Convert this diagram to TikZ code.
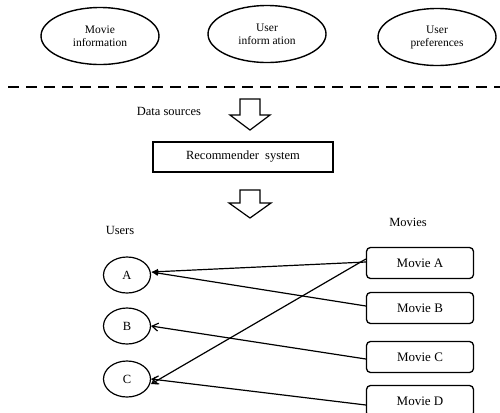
\documentclass[tikz,border=0pt]{standalone}
\usepackage{fontspec}
\setmainfont{Liberation Serif}
\usetikzlibrary{shapes.geometric,arrows.meta}
\tikzset{
  src/.style={draw, ellipse, line width=1.4bp, minimum width=118bp, minimum height=57bp, inner sep=0pt, align=center, font=\fontsize{11.5bp}{13bp}\selectfont},
  usr/.style={draw, ellipse, line width=1.2bp, minimum width=47bp, minimum height=36bp, inner sep=0pt, font=\fontsize{12.5bp}{14bp}\selectfont},
  mov/.style={draw, rounded corners=4bp, line width=1.3bp, minimum width=107bp, minimum height=31bp, inner sep=0pt, font=\fontsize{13bp}{14bp}\selectfont},
  lbl/.style={font=\fontsize{12.5bp}{14bp}\selectfont, inner sep=0pt},
  blockarrow/.style={draw, line width=1.2bp, fill=white},
  link/.style={line width=1.2bp, -{Straight Barb[length=6bp,width=8bp]}},
  linkfill/.style={line width=1.2bp, -{Latex[length=7bp,width=6bp]}}
}
\begin{document}
\begin{tikzpicture}[x=1bp,y=-1bp]
\useasboundingbox (0,0) rectangle (500,412);
% data sources
\node[src] (mi) at (100,36) {Movie\\information};
\node[src] (ui) at (267,34) {User\\inform ation};
\node[src] (up) at (437,37) {User\\preferences};
\coordinate (dl) at (8,87);
\coordinate (dr) at (500,87);
\draw[line width=1.5bp, dash pattern=on 11bp off 7bp] (dl) -- (dr);
\node[lbl] (ds) at (169,111) {Data sources};
\draw[blockarrow] (240,99) -- (260,99) -- (260,115) -- (270,115) -- (250,130) -- (230,115) -- (240,115) -- cycle;
\node[draw, line width=1.3bp, minimum width=180bp, minimum height=30bp, inner sep=0pt, font=\fontsize{12.5bp}{14bp}\selectfont] (rs) at (243,157) {Recommender\ \ system};
\draw[blockarrow] (240,190) -- (260,190) -- (260,203) -- (271,203) -- (250,218) -- (229,203) -- (240,203) -- cycle;
% users and movies
\node[lbl] (ul) at (120,230) {Users};
\node[lbl] (ml) at (408,222) {Movies};
\node[usr] (A) at (127,275) {A};
\node[usr] (B) at (127,326) {B};
\node[usr] (C) at (127,379) {C};
\node[mov] (MA) at (420,263) {Movie A};
\node[mov] (MB) at (420,308) {Movie B};
\node[mov] (MC) at (420,357) {Movie C};
\node[mov] (MD) at (420,401) {Movie D};
\coordinate (Ain) at ([yshift=3bp]A.east);
% links
\draw[linkfill] ([yshift=1bp]MA.west) -- (Ain);
\draw[linkfill] ([yshift=2bp]MB.west) -- (Ain);
\draw[link] ([yshift=4bp]MA.west) -- ([yshift=-5bp]C.east);
\draw[link] ([yshift=-2bp]MC.west) -- (B.east);
\draw[link] ([yshift=-4bp]MD.west) -- (C.east);
\end{tikzpicture}
\end{document}
